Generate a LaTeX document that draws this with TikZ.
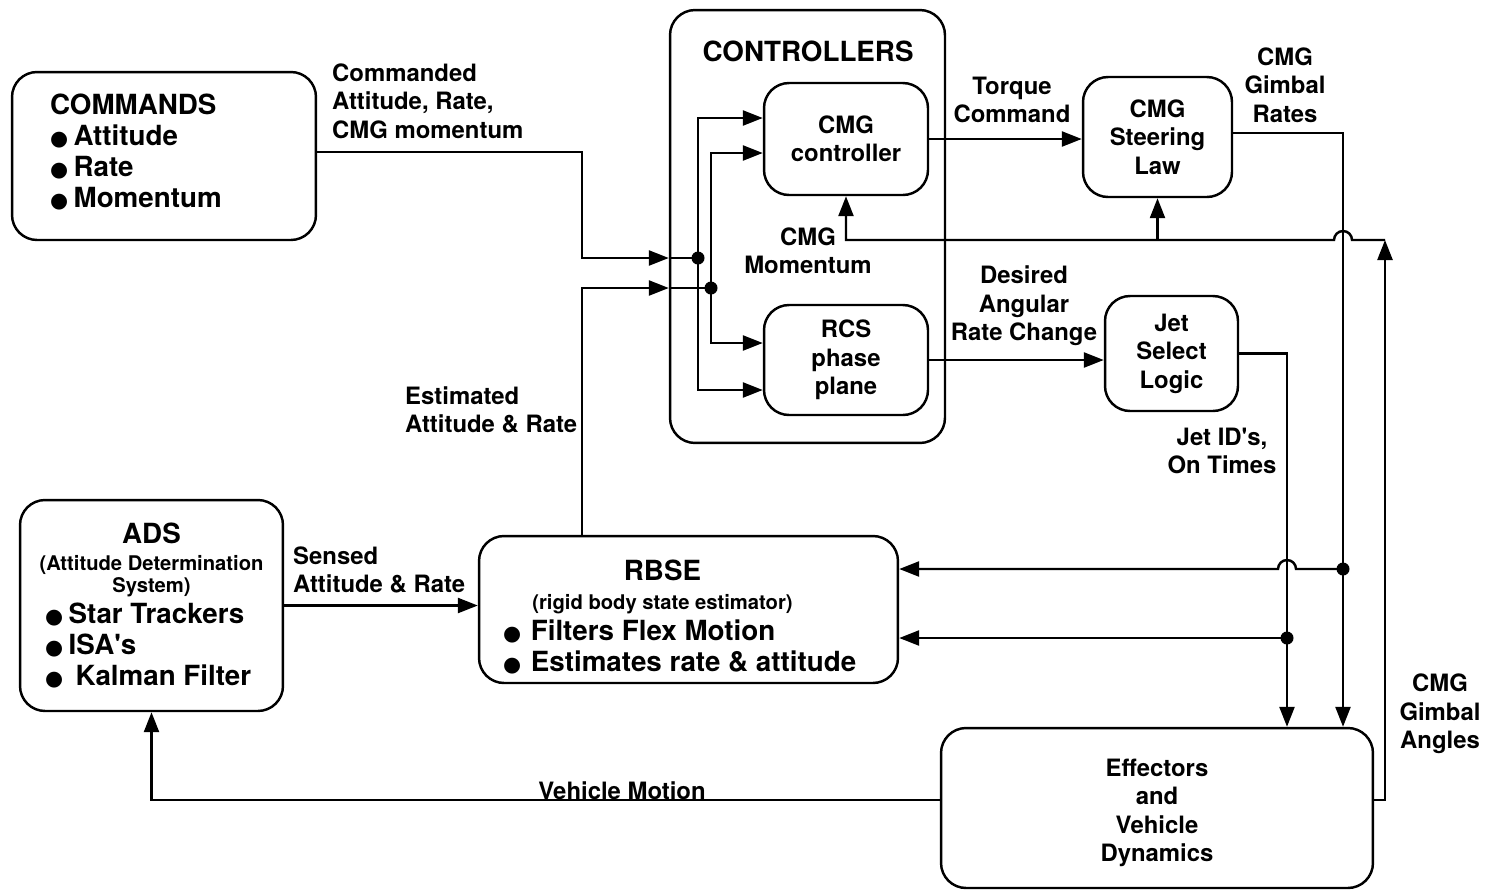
\documentclass[tikz,border=0pt]{standalone}
\usepackage{fontspec}
\setmainfont{TeX Gyre Heros}
\newfontfamily\symfont{DejaVu Sans}
\usetikzlibrary{arrows.meta}
\newcommand{\medfont}{\fontsize{13.6}{16.2}\selectfont\bfseries}
\newcommand{\bigfont}{\fontsize{15.8}{17.6}\selectfont\bfseries}
\newcommand{\smallfont}{\fontsize{11.5}{12}\selectfont\bfseries}
\newcommand{\normspace}{\spaceskip=0pt\xspaceskip=0pt\relax}
\newcommand{\bul}[1][0.2em]{{\symfont\fontsize{11.8}{11.8}\selectfont ●}\hspace{#1}}

\begin{document}
\begin{tikzpicture}[x=0.02cm, y=-0.02cm, line width=1.4pt,
  >={Triangle[length=0.4cm,width=0.3cm]},
  blk/.style={draw, rounded corners=0.5cm, align=center, font=\medfont},
  lbl/.style={align=center, inner sep=0pt, font=\medfont}]

\useasboundingbox (0,0) rectangle (1488,890);

% Left boxes
\node[blk, font=\bigfont, align=left, text width=4.56cm, inner xsep=0.76cm, minimum height=3.36cm] (cmds) at (164,156)
  {\normspace COMMANDS\\\bul Attitude\\\bul Rate\\\bul Momentum\rule[-6pt]{0pt}{6pt}};
\node[blk, font=\bigfont, align=left, text width=4.26cm, inner xsep=0.5cm, minimum height=4.22cm] (ads) at (151.5,605.5)
  {\normspace\makebox[4.26cm]{ADS}\\[-2pt]
   \makebox[4.26cm]{\smallfont (Attitude Determination}\\[-5pt]
   \makebox[4.26cm]{\smallfont System)}\\
   \bul Star Trackers\\
   \bul ISA\textquotesingle s\\
   \bul[0.45em]Kalman Filter};
\node[blk, font=\bigfont, align=left, text width=7.42cm, inner xsep=0.48cm, minimum height=2.94cm] (rbse) at (688.5,609.5)
  {\normspace\makebox[6.38cm]{\rule{0pt}{20.5pt}RBSE}\\[-1pt]
   \makebox[6.38cm]{\smallfont (rigid body state estimator)}\\
   \bul[0.35em]Filters Flex Motion\\
   \bul[0.35em]Estimates rate \& attitude};

% Controllers
\node[blk, minimum width=5.5cm, minimum height=8.66cm] (ctrl) at (807.5,226.5) {};
\node[font=\bigfont] (ctrltitle) at (808,51) {CONTROLLERS};
\node[blk, minimum width=3.28cm, minimum height=2.24cm] (cmgc) at (846,139) {CMG\\controller};
\node[blk, minimum width=3.28cm, minimum height=2.2cm] (rcs) at (846,360) {RCS\\phase\\plane};

% Right boxes
\node[blk, minimum width=2.98cm, minimum height=2.4cm] (steer) at (1157.5,137) {CMG\\Steering\\Law};
\node[blk, minimum width=2.66cm, minimum height=2.3cm] (jet) at (1171.5,353.5) {Jet\\Select\\Logic};
\node[blk, minimum width=8.64cm, minimum height=3.2cm] (eff) at (1157,808)
  {\rule{0pt}{15.5pt}Effectors\\and\\Vehicle\\Dynamics};

% Labels
\node[lbl, anchor=west, align=left] (lcmd) at (331,101) {Commanded\\Attitude, Rate,\\CMG momentum};
\node[lbl] (ltorque) at (1012,100) {Torque\\Command};
\node[lbl] (lrates) at (1285,85) {CMG\\Gimbal\\Rates};
\node[lbl] (lmom) at (808,251) {CMG\\Momentum};
\node[lbl] (ldes) at (1024,306) {Desired\\Angular\\Rate Change};
\node[lbl, anchor=west, align=left] (lest) at (404,410) {Estimated\\Attitude \& Rate};
\node[lbl] (ljet) at (1222,451) {Jet ID\textquotesingle s,\\On Times};
\node[lbl, anchor=west, align=left] (lsens) at (292,570) {Sensed\\Attitude \& Rate};
\node[lbl] (lveh) at (622,791) {Vehicle Motion};
\node[lbl] (langles) at (1440,714) {CMG\\Gimbal\\Angles};

% Inputs to the controllers
\coordinate (c1) at (582,258);
\coordinate (c2) at (582,288);
\coordinate (j1) at (698,258);
\coordinate (j2) at (711,288);
\draw[->] ([yshift=0.08cm]cmds.east) -| (c1) -- (ctrl.west |- c1);
\draw (ctrl.west |- c1) -- (j1);
\draw[->] (rbse.north -| c2) -- (c2) -- (ctrl.west |- c2);
\draw (ctrl.west |- c2) -- (j2);
\draw[->] (j1) |- (cmgc.west |- 0,118);
\draw[->] (j1) |- (rcs.west |- 0,390);
\draw[->] (j2) |- (cmgc.west |- 0,153);
\draw[->] (j2) |- (rcs.west |- 0,343);
\fill (j1) circle (0.13cm);
\fill (j2) circle (0.13cm);

% Controller outputs
\draw[->] (cmgc.east) -- (steer.west |- cmgc.east);
\draw[->] (rcs.east) -- (jet.west |- rcs.east);

% Down to the effectors and back to the estimator
\coordinate (g1) at (1343,569);
\coordinate (g2) at (1287,638);
\coordinate (g3) at (1385,240);
\draw[->] ([yshift=0.08cm]steer.east) -| (g1) -- (g1 |- eff.north);
\draw[->] (jet.east) -| (g2) -- (g2 |- eff.north);
\draw[->] (g1) -- (1296,569) arc[start angle=0, end angle=180, radius=0.18cm] -- (rbse.east |- g1);
\draw[->] (g2) -- (rbse.east |- g2);
\fill (g1) circle (0.13cm);
\fill (g2) circle (0.13cm);

% Gimbal angles feedback
\draw[->] ([yshift=0.16cm]eff.east) -| (g3);
\draw[->] (g3) -- (1352,240) arc[start angle=0, end angle=180, radius=0.18cm] -- (cmgc.south |- g3) -- (cmgc.south);
\draw[->] (steer.south |- g3) -- (steer.south);

% Vehicle motion and sensing
\draw[->] ([yshift=0.16cm]eff.west) -| (ads.south);
\draw[->] (ads.east) -- (rbse.west |- ads.east);

\end{tikzpicture}
\end{document}
